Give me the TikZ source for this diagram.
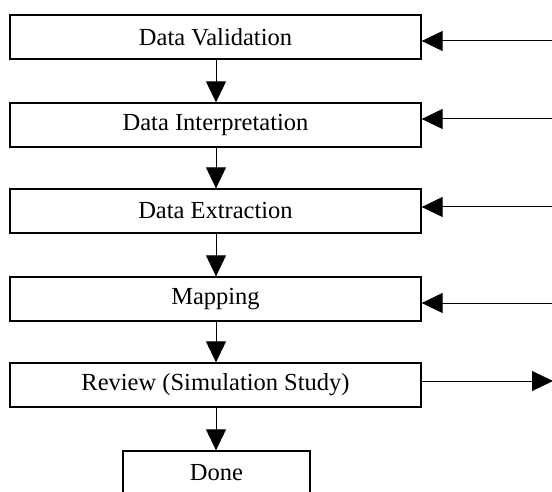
\documentclass[tikz,border=0pt]{standalone}
\usepackage{fontspec}
\setmainfont{Liberation Serif}
\usetikzlibrary{arrows.meta}
\begin{document}
\begin{tikzpicture}[x=1pt,y=-1pt,
  stepbox/.style={draw=black,line width=1.3pt,fill=white,minimum width=411pt,minimum height=44pt,inner sep=0pt,font=\fontsize{24.5}{26}\selectfont},
  donebox/.style={stepbox,minimum width=187pt},
  conn/.style={line width=1pt,-{Triangle[length=21pt,width=20pt]}}]
\clip (0,0) rectangle (552,492);
\fill[white] (0,0) rectangle (552,492);
\node[stepbox] (v) at (215.5,37) {Data Validation};
\node[stepbox] (i) at (215.5,125) {Data Interpretation};
\node[stepbox] (e) at (215.5,211) {Data Extraction};
\node[stepbox] (m) at (215.5,299) {Mapping};
\node[stepbox] (r) at (215.5,385) {Review (Simulation Study)};
\node[donebox] (d) at (216.5,473) {Done};
\coordinate (cv) at (553,41);
\coordinate (ci) at (553,119);
\coordinate (ce) at (553,207);
\coordinate (cm) at (553,303);
\coordinate (cr) at (553,381);
\draw[conn] (v.south -| 216,0) -- (i.north -| 216,0);
\draw[conn] (i.south -| 216,0) -- (e.north -| 216,0);
\draw[conn] (e.south -| 216,0) -- (m.north -| 216,0);
\draw[conn] (m.south -| 216,0) -- (r.north -| 216,0);
\draw[conn] (r.south -| 216,0) -- (d.north -| 216,0);
\draw[conn] (cv) -- (cv -| v.east);
\draw[conn] (ci) -- (ci -| i.east);
\draw[conn] (ce) -- (ce -| e.east);
\draw[conn] (cm) -- (cm -| m.east);
\draw[conn] (cr -| r.east) -- (cr);
\end{tikzpicture}
\end{document}
